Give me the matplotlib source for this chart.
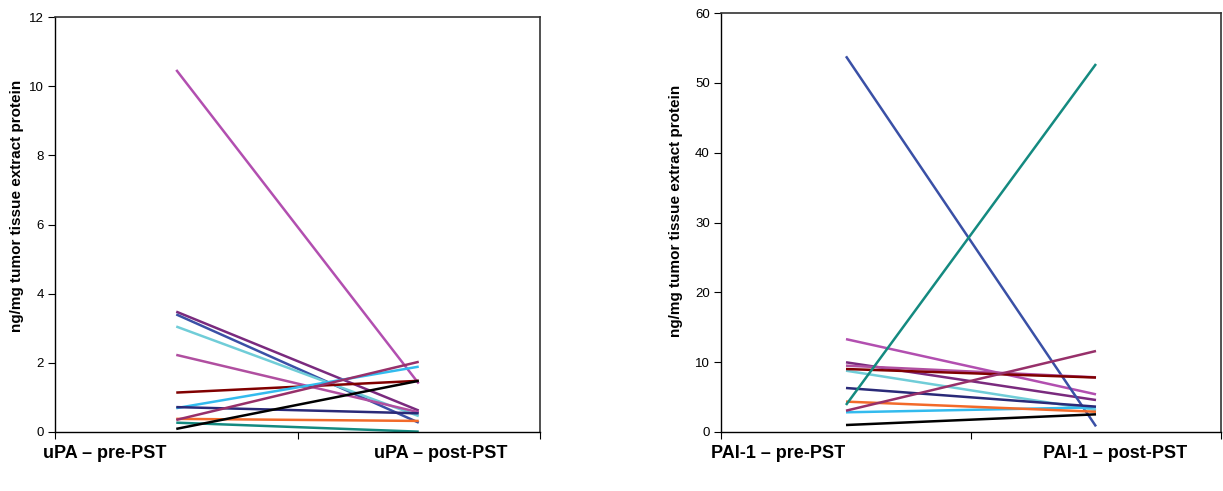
import matplotlib
matplotlib.use("Agg")
import matplotlib.pyplot as plt

plt.rcParams['font.family'] = ['Liberation Sans', 'DejaVu Sans']

# patient colours (same patient, same colour in both panels)
colors = ['#b24fb0', '#7a2a7e', '#3a50a6', '#70cdd8', '#b04fa0', '#800000',
          '#33bbee', '#2a2a78', '#f26a2a', '#97306a', '#148a80', '#000000']

# uPA pre / post (ng/mg)
upa_pre = [10.47, 3.48, 3.40, 3.05, 2.23, 1.14, 0.69, 0.72, 0.38, 0.35, 0.27, 0.09]
upa_post = [1.40, 0.62, 0.27, 0.46, 0.57, 1.48, 1.89, 0.54, 0.32, 2.03, 0.01, 1.48]

# PAI-1 pre / post (ng/mg)
pai_pre = [13.3, 9.98, 53.8, 8.78, 9.5, 9.02, 2.82, 6.3, 4.35, 3.05, 3.87, 1.0]
pai_post = [5.39, 4.58, 0.8, 3.15, 7.83, 7.8, 3.53, 3.63, 2.9, 11.6, 52.7, 2.53]

labels_upa = ['uPA \u2013 pre-PST', 'uPA \u2013 post-PST']
labels_pai = ['PAI-1 \u2013 pre-PST', 'PAI-1 \u2013 post-PST']

fig = plt.figure(figsize=(12.23, 4.91), dpi=100)
ax1 = fig.add_axes([55 / 1223, 1 - 432 / 491, 485 / 1223, 415 / 491])
ax2 = fig.add_axes([721 / 1223, 1 - 432 / 491, 500 / 1223, 419 / 491])


def draw(ax, pre, post, ymax, step, ylab_x, ylab_y):
    for c, a, b in zip(colors, pre, post):
        ax.plot([0.5, 1.5], [a, b], color=c, lw=1.8, solid_capstyle='butt')
    ax.set_xlim(0, 2)
    ax.set_ylim(0, ymax)
    ax.set_xticks([0, 1, 2])
    ax.set_xticklabels([])
    ax.set_yticks(range(0, ymax + 1, step))
    ax.tick_params(axis='both', direction='out', length=5, width=0.8,
                   labelsize=9.5, colors='black', pad=3)
    for s in ['left', 'bottom']:
        ax.spines[s].set_linewidth(1.0)
        ax.spines[s].set_color('black')
    for s in ['top', 'right']:
        ax.spines[s].set_linewidth(1.2)
        ax.spines[s].set_color('#333333')
    ax.set_ylabel('ng/mg tumor tissue extract protein', fontsize=11,
                  fontweight='bold')
    ax.yaxis.set_label_coords(ylab_x, ylab_y)


draw(ax1, upa_pre, upa_post, 12, 2, -31 / 485, (432 - 206) / 415)
draw(ax2, pai_pre, pai_post, 60, 10, -38 / 500, (432 - 211) / 419)

# category labels under each panel
ty = 1 - 453 / 491
fig.text(105 / 1223, ty, labels_upa[0], ha='center', va='center', fontsize=13, fontweight='bold')
fig.text(441 / 1223, ty, labels_upa[1], ha='center', va='center', fontsize=13, fontweight='bold')
fig.text(778 / 1223, ty, labels_pai[0], ha='center', va='center', fontsize=13, fontweight='bold')
fig.text(1115 / 1223, ty, labels_pai[1], ha='center', va='center', fontsize=13, fontweight='bold')

fig.savefig('out.png', dpi=100)
